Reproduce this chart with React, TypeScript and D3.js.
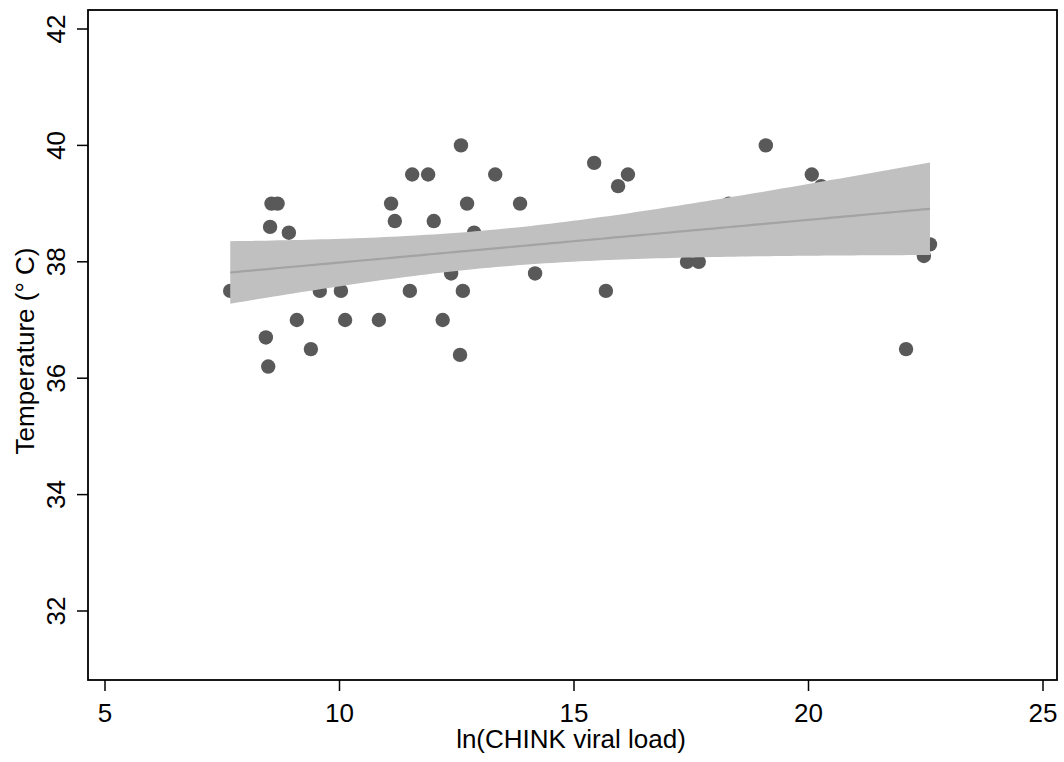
import React from "react";
import * as d3 from "d3";

const viralLoad = [7.67, 8.35, 8.43, 8.48, 8.52, 8.55, 8.68, 8.92, 9.09, 9.39, 9.58, 10.03, 10.12, 10.84, 11.10, 11.18, 11.50, 11.55, 11.89, 12.01, 12.20, 12.38, 12.59, 12.57, 12.63, 12.72, 12.87, 13.32, 13.85, 14.17, 15.43, 15.68, 15.94, 16.15, 17.41, 17.66, 18.30, 19.09, 20.07, 20.27, 22.08, 22.46, 22.59];
const temperature = [37.5, 37.5, 36.7, 36.2, 38.6, 39.0, 39.0, 38.5, 37.0, 36.5, 37.5, 37.5, 37.0, 37.0, 39.0, 38.7, 37.5, 39.5, 39.5, 38.7, 37.0, 37.8, 40.0, 36.4, 37.5, 39.0, 38.5, 39.5, 39.0, 37.8, 39.7, 37.5, 39.3, 39.5, 38.0, 38.0, 39.0, 40.0, 39.5, 39.3, 36.5, 38.1, 38.3];
const xTicks = [5, 10, 15, 20, 25];
const yTicks = [32, 34, 36, 38, 40, 42];
const xTitle = "ln(CHINK viral load)";
const yTitle = "Temperature (° C)";

const FONT = "'Liberation Sans', Arial, sans-serif";

export default function App() {
  const W = 1064, H = 762;
  const left = 88, right = 1057, top = 10, bottom = 680;
  const x = d3.scaleLinear().domain([5, 25]).range([105, 1043]);
  const y = d3.scaleLinear().domain([32, 42]).range([611, 29]);

  const pts = viralLoad.map((v, i) => ({ x: v, y: temperature[i] }));
  const n = pts.length;
  const mx = d3.mean(viralLoad)!;
  const my = d3.mean(temperature)!;
  let sxx = 0, sxy = 0;
  pts.forEach((p) => { sxx += (p.x - mx) ** 2; sxy += (p.x - mx) * (p.y - my); });
  const b = sxy / sxx;
  const a = my - b * mx;
  let sse = 0;
  pts.forEach((p) => { sse += (p.y - (a + b * p.x)) ** 2; });
  const s = Math.sqrt(sse / (n - 2));
  const t = 2.0195;
  const [xmin, xmax] = d3.extent(viralLoad) as [number, number];
  const grid = d3.range(0, 101).map((k) => xmin + (k / 100) * (xmax - xmin));
  const band = grid.map((gx) => {
    const fit = a + b * gx;
    const hw = t * s * Math.sqrt(1 / n + (gx - mx) ** 2 / sxx);
    return { x: gx, fit, lo: fit - hw, hi: fit + hw };
  });
  const area = d3.area<any>().x((d) => x(d.x)).y0((d) => y(d.lo)).y1((d) => y(d.hi));
  const line = d3.line<any>().x((d) => x(d.x)).y((d) => y(d.fit));

  return (
    <svg width={W} height={H} style={{ position: "absolute", left: 0, top: 0, background: "#fff" }} fontFamily={FONT}>
      <rect x={0} y={0} width={W} height={H} fill="#fff" />
      {pts.map((p, i) => (
        <circle key={i} cx={x(p.x)} cy={y(p.y)} r={7.2} fill="#595959" />
      ))}
      <path d={area(band)!} fill="#c0c0c0" />
      <path d={line(band)!} fill="none" stroke="#a3a3a3" strokeWidth={2.2} />
      <rect x={left} y={top} width={right - left} height={bottom - top} fill="none" stroke="#000" strokeWidth={1.8} />
      {xTicks.map((v) => (
        <g key={v}>
          <line x1={x(v)} x2={x(v)} y1={bottom} y2={bottom + 11} stroke="#000" strokeWidth={1.5} />
          <text x={x(v)} y={722} textAnchor="middle" fontSize={26}>{v}</text>
        </g>
      ))}
      {yTicks.map((v) => (
        <g key={v}>
          <line x1={left - 11} x2={left} y1={y(v)} y2={y(v)} stroke="#000" strokeWidth={1.5} />
          <text transform={`translate(65,${y(v)}) rotate(-90)`} textAnchor="middle" fontSize={26}>{v}</text>
        </g>
      ))}
      <text x={571} y={748} textAnchor="middle" fontSize={26}>{xTitle}</text>
      <text transform={`translate(34,351) rotate(-90)`} textAnchor="middle" fontSize={26}>{yTitle}</text>
    </svg>
  );
}
